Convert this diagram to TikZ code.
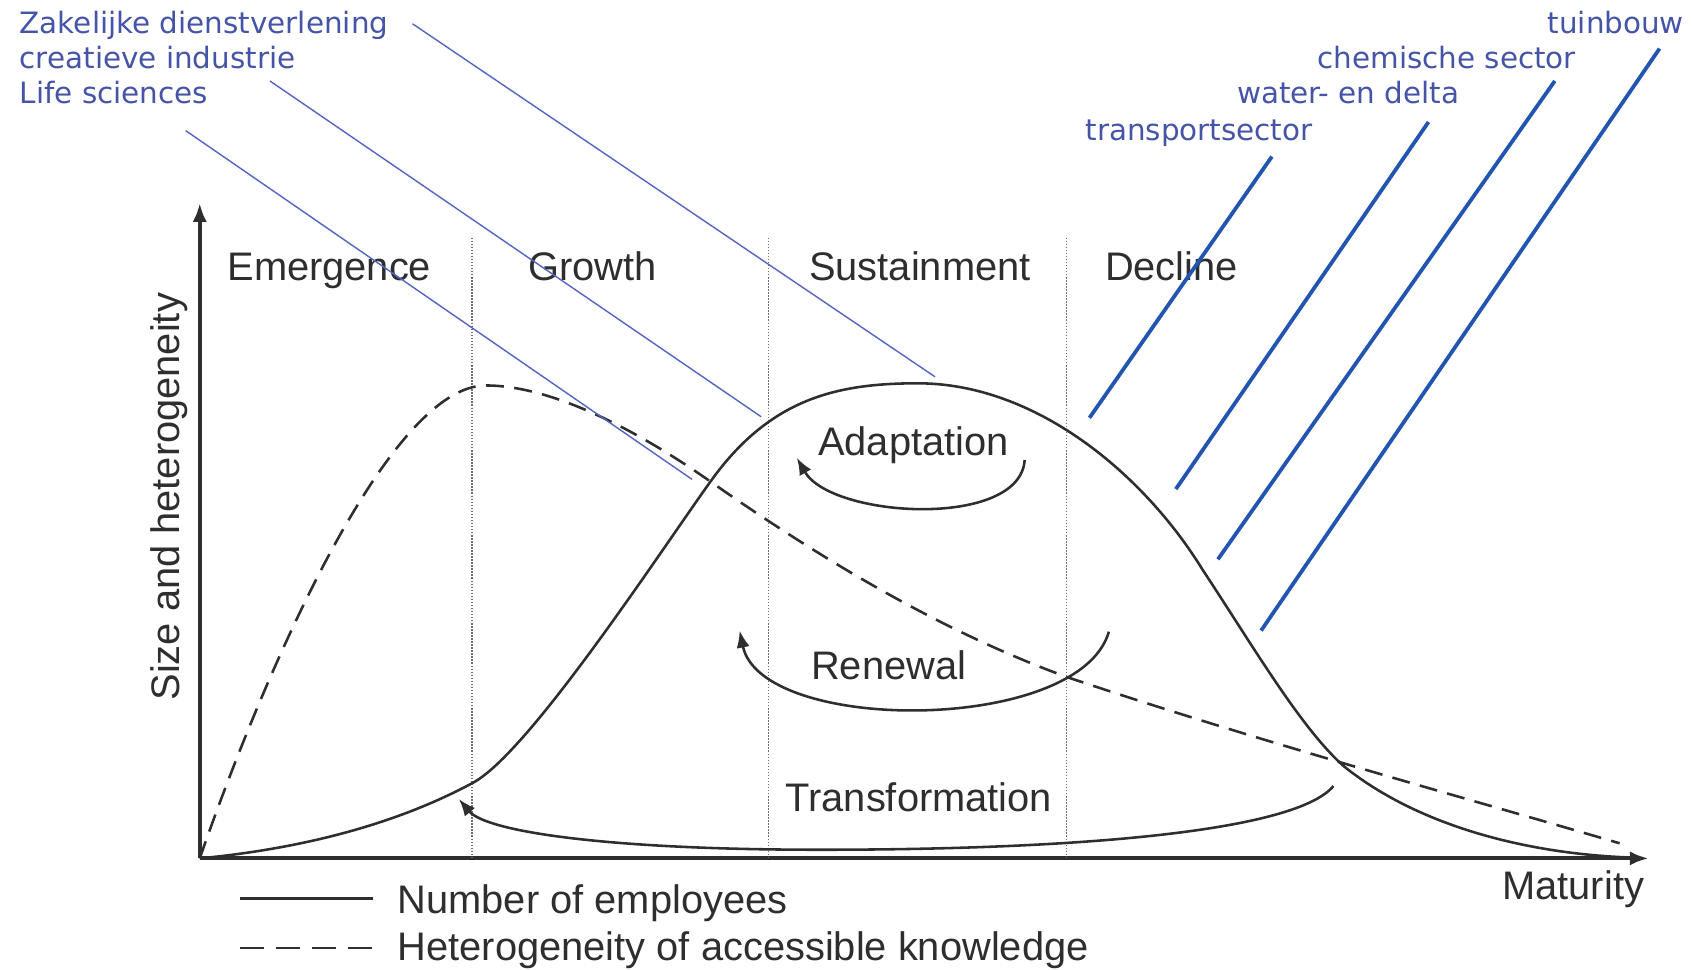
\documentclass[tikz,border=0pt]{standalone}
\usepackage{fontspec}
\setmainfont{Liberation Sans}
\newfontfamily\bluefont{DejaVu Sans}
\usetikzlibrary{arrows.meta}
\definecolor{txtgray}{HTML}{2E2E2E}
\definecolor{bluetxt}{HTML}{4654A8}
\definecolor{bluethin}{HTML}{5566C0}
\definecolor{bluethick}{HTML}{2255B0}
\definecolor{dotgray}{HTML}{707070}
\begin{document}
\begin{tikzpicture}[x=0.02cm,y=-0.02cm,
  lbl/.style={font=\fontsize{21}{25}\selectfont, text=txtgray, inner sep=0pt},
  sect/.style={font=\bluefont\fontsize{15.5}{18}\selectfont, text=bluetxt, inner sep=0pt},
  curve/.style={line width=1.35pt, draw=txtgray},
  knowcurve/.style={curve, dash pattern=on 9.5pt off 5.5pt},
  phaseline/.style={draw=dotgray, line width=0.7pt, dash pattern=on 0.8pt off 0.8pt},
  thinlink/.style={draw=bluethin, line width=0.75pt},
  thicklink/.style={draw=bluethick, line width=2pt},
  axisline/.style={line width=2.1pt, draw=txtgray, -{Latex[length=10pt,width=7.5pt]}},
  cyclearrow/.style={line width=1.35pt, draw=txtgray, -{Latex[length=9pt,width=7pt]}}
]
\useasboundingbox (0,0) rectangle (1568,898);

% axes
\coordinate (O) at (185,795);
\coordinate (ytop) at (185,188);
\coordinate (xend) at (1527,795);
\draw[axisline] (O) -- (ytop);
\draw[axisline] (O) -- (xend);

% phase separators
\foreach \px/\nm in {437/pa,712/pb,988/pc}{
  \coordinate (\nm t) at (\px,220);
  \coordinate (\nm b) at (\px,795);
  \draw[phaseline] (\nm t) -- (\nm b);
}

% phase labels
\node[lbl, anchor=base] (emer) at (305,260) {Emergence};
\node[lbl, anchor=base] (grow) at (549,260) {Growth};
\node[lbl, anchor=base] (sust) at (852,260) {Sustainment};
\node[lbl, anchor=base] (decl) at (1085,260) {Decline};

% axis labels
\node[lbl, anchor=base, rotate=90] (ylab) at (166,460) {Size and heterogeneity};
\node[lbl, anchor=base] (xlab) at (1457,833) {Maturity};

% number of employees
\draw[curve] (185,795) .. controls (269,787) and (360,767) .. (438,725)
  .. controls (490,697) and (610,513) .. (658,446)
  .. controls (713,369) and (775,355) .. (850,355)
  .. controls (960,355) and (1060,440) .. (1114,528)
  .. controls (1159,596) and (1205,675) .. (1245,710)
  .. controls (1315,766) and (1415,790) .. (1505,794);

% heterogeneity of knowledge
\draw[knowcurve] (185,795) .. controls (245,622) and (360,357) .. (450,357)
  .. controls (510,357) and (588,397) .. (658,446)
  .. controls (768,523) and (878,587) .. (988,627)
  .. controls (1160,685) and (1350,737) .. (1500,781);

% cycle arrows
\coordinate (adS) at (949,426);
\coordinate (adE) at (738,424);
\draw[cyclearrow] (adS) .. controls (945,490) and (770,480) .. (adE);
\node[lbl, anchor=base] (adapt) at (846,422) {Adaptation};

\coordinate (reS) at (1027,585);
\coordinate (reE) at (685,584);
\draw[cyclearrow] (reS) .. controls (1000,680) and (705,680) .. (reE);
\node[lbl, anchor=base] (renew) at (823,629) {Renewal};

\coordinate (trS) at (1235,728);
\coordinate (trM) at (760,787);
\coordinate (trE) at (425,740);
\draw[cyclearrow] (trS) .. controls (1200,770) and (1000,787) .. (trM)
  .. controls (560,787) and (450,770) .. (trE);
\node[lbl, anchor=base] (transf) at (851,752) {Transformation};

% legend
\coordinate (l1a) at (222,832); \coordinate (l1b) at (345,832);
\coordinate (l2a) at (222,878); \coordinate (l2b) at (345,878);
\draw[curve] (l1a) -- (l1b);
\draw[curve, dash pattern=on 13pt off 6pt] (l2a) -- (l2b);
\node[lbl, anchor=base west] (leg1) at (368,846) {Number of employees};
\node[lbl, anchor=base west] (leg2) at (368,890) {Heterogeneity of accessible knowledge};

% sector labels (left)
\node[sect, anchor=base west] (zak) at (18,31) {Zakelijke dienstverlening};
\node[sect, anchor=base west] (cre) at (18,63) {creatieve industrie};
\node[sect, anchor=base west] (life) at (18,96) {Life sciences};
\coordinate (zakA) at (382,22);  \coordinate (zakB) at (866,349);
\coordinate (creA) at (250,75);  \coordinate (creB) at (705,386);
\coordinate (lifeA) at (172,121); \coordinate (lifeB) at (641,444);
\draw[thinlink] (zakA) -- (zakB);
\draw[thinlink] (creA) -- (creB);
\draw[thinlink] (lifeA) -- (lifeB);

% sector labels (right)
\node[sect, anchor=base east] (tuin) at (1560,31) {tuinbouw};
\node[sect, anchor=base east] (chem) at (1460,63) {chemische sector};
\node[sect, anchor=base east] (wat) at (1352,96) {water- en delta};
\node[sect, anchor=base east] (tran) at (1216,130) {transportsector};
\coordinate (tranA) at (1178,145); \coordinate (tranB) at (1009,387);
\coordinate (watA) at (1323,113);  \coordinate (watB) at (1089,453);
\coordinate (chemA) at (1440,75);  \coordinate (chemB) at (1128,518);
\coordinate (tuinA) at (1537,45);  \coordinate (tuinB) at (1168,584);
\draw[thicklink] (tranA) -- (tranB);
\draw[thicklink] (watA) -- (watB);
\draw[thicklink] (chemA) -- (chemB);
\draw[thicklink] (tuinA) -- (tuinB);
\end{tikzpicture}
\end{document}
